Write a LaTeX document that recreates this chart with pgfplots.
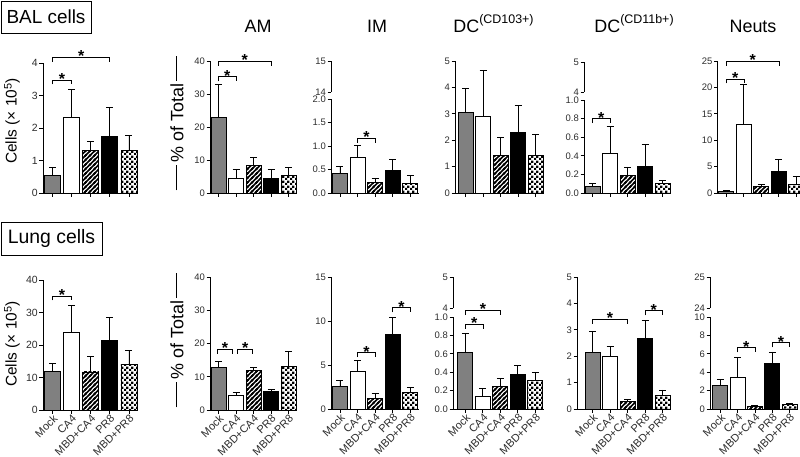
\documentclass[border=0pt]{standalone}
\usepackage{fontspec}
\setmainfont{Liberation Sans}
\usepackage{pgfplots}
\pgfplotsset{compat=1.18}
\usetikzlibrary{patterns}

\pgfdeclarepatternformonly{hatch}{\pgfqpoint{-1bp}{-1bp}}{\pgfqpoint{5.5bp}{5.5bp}}{\pgfqpoint{4.5bp}{4.5bp}}{%
  \pgfsetlinewidth{1.5bp}%
  \pgfpathmoveto{\pgfqpoint{-1bp}{-1bp}}\pgfpathlineto{\pgfqpoint{5.5bp}{5.5bp}}%
  \pgfpathmoveto{\pgfqpoint{3.5bp}{-1bp}}\pgfpathlineto{\pgfqpoint{5.5bp}{1bp}}%
  \pgfpathmoveto{\pgfqpoint{-1bp}{3.5bp}}\pgfpathlineto{\pgfqpoint{1bp}{5.5bp}}%
  \pgfusepath{stroke}}

\pgfdeclarepatternformonly{checker}{\pgfpointorigin}{\pgfqpoint{4.6bp}{4.6bp}}{\pgfqpoint{4.6bp}{4.6bp}}{%
  \pgfpathrectangle{\pgfpointorigin}{\pgfqpoint{2.3bp}{2.3bp}}%
  \pgfpathrectangle{\pgfqpoint{2.3bp}{2.3bp}}{\pgfqpoint{2.3bp}{2.3bp}}%
  \pgfusepath{fill}}

\definecolor{mockgray}{RGB}{128,128,128}
\definecolor{ticktext}{RGB}{45,45,45}

\pgfplotsset{
  barbase/.style={ybar, bar shift=0pt, draw=black, line width=0.9pt,
    /pgfplots/error bars/y dir=plus, /pgfplots/error bars/y explicit,
    /pgfplots/error bars/error bar style={line width=0.9pt, black},
    /pgfplots/error bars/error mark options={line width=0.9pt, black, mark size=3.5bp, rotate=90}},
  mock/.style={barbase, fill=mockgray},
  ca/.style={barbase, fill=white},
  mca/.style={barbase, pattern=hatch, pattern color=black},
  pr/.style={barbase, fill=black},
  mpr/.style={barbase, pattern=checker, pattern color=black},
  common/.style={
    scale only axis, anchor=south west, clip=false,
    x=17.5bp, xmax=4.5,
    tick align=outside, major tick length=3.5bp,
    tick style={black, line width=0.9pt},
    axis line style={black, line width=0.9pt, -},
    yticklabel style={font=\fontsize{9.5}{10}\selectfont, text=ticktext, inner sep=1.5bp},
    /pgf/number format/assume math mode=true,
  },
  panel/.style={common,
    axis x line*=bottom, axis y line*=left, ymin=0,
    xtick={0,1,2,3,4}, xticklabels={}, bar width=15bp},
  upper/.style={common, axis x line=none, axis y line*=left},
  bottomrow/.style={xticklabels={Mock,CA4,MBD+CA4,PR8,MBD+PR8},
    xticklabel style={rotate=45, anchor=north east, font=\fontsize{11}{12}\selectfont, text=ticktext, inner sep=0.3bp}},
  dec1/.style={yticklabel style={/pgf/number format/fixed, /pgf/number format/fixed zerofill, /pgf/number format/precision=1}},
}

\newcommand{\bb}[4]{\addplot[#1] coordinates {(#2,#3) +- (0,#4)};}
\newcommand{\sig}[4]{%
  \draw[line width=0.8pt, black] ([yshift=-4.5bp]axis cs:#1,#3) -- (axis cs:#1,#3) -- (axis cs:#2,#3) -- ([yshift=-4.5bp]axis cs:#2,#3);
  \node[font=\bfseries\fontsize{16}{16}\selectfont, anchor=base, inner sep=0pt, yshift=-4.4bp] at (axis cs:#4,#3) {*};}

\begin{document}
\begin{tikzpicture}
\useasboundingbox (0,0) rectangle (800bp,-457bp);

% ---------- labels ----------
\draw[line width=1pt] (1bp,-1bp) rectangle (91bp,-33bp);
\node[font=\fontsize{19}{19}\selectfont] at (46bp,-17bp) {BAL cells};
\draw[line width=1pt] (1bp,-222bp) rectangle (102bp,-255bp);
\node[font=\fontsize{19.5}{20}\selectfont] at (51.5bp,-238.5bp) {Lung cells};

\node[rotate=90, font=\fontsize{15.5}{16}\selectfont] at (12bp,-121bp) {Cells (× 10\textsuperscript{5})};
\node[rotate=90, font=\fontsize{15.5}{16}\selectfont] at (12bp,-344bp) {Cells (× 10\textsuperscript{5})};

\node[rotate=90, font=\fontsize{18}{18}\selectfont] at (177bp,-123bp) {\rule[0.33em]{25bp}{1.6bp}\,\% of Total\,\rule[0.33em]{25bp}{1.6bp}};
\node[rotate=90, font=\fontsize{18}{18}\selectfont] at (177bp,-340bp) {\rule[0.33em]{25bp}{1.6bp}\,\% of Total\,\rule[0.33em]{25bp}{1.6bp}};

\node[anchor=base, font=\fontsize{18}{18}\selectfont] at (258bp,-32bp) {AM};
\node[anchor=base, font=\fontsize{18}{18}\selectfont] at (377bp,-32bp) {IM};
\node[anchor=base, font=\fontsize{18}{18}\selectfont] at (493.5bp,-32bp) {DC\raisebox{9bp}{\fontsize{12.5}{13}\selectfont(CD103+)}};
\node[anchor=base, font=\fontsize{18}{18}\selectfont] at (634bp,-32bp) {DC\raisebox{9bp}{\fontsize{12.5}{13}\selectfont(CD11b+)}};
\node[anchor=base, font=\fontsize{18}{18}\selectfont] at (753bp,-32bp) {Neuts};

% ================= TOP ROW (BAL) =================
\begin{axis}[panel, at={(43bp,-193bp)}, x=19.1bp, xmin=-0.5, height=130bp, ymax=4, ytick={0,1,2,3,4}, bar width=16bp,
  yticklabel style={font=\fontsize{10.5}{11}\selectfont}]
\bb{mock}{0}{0.55}{0.25}
\bb{ca}{1}{2.33}{0.87}
\bb{mca}{2}{1.30}{0.30}
\bb{pr}{3}{1.75}{0.88}
\bb{mpr}{4}{1.30}{0.47}
\sig{0}{1}{3.48}{0.5}
\sig{0}{3}{4.18}{1.5}
\end{axis}

\begin{axis}[panel, at={(210bp,-193bp)}, xmin=-0.49, height=132bp, ymax=40, ytick={0,10,20,30,40}]
\bb{mock}{0}{22.8}{10.0}
\bb{ca}{1}{4.3}{2.9}
\bb{mca}{2}{8.2}{2.7}
\bb{pr}{3}{4.5}{2.6}
\bb{mpr}{4}{5.2}{2.4}
\sig{0}{1}{35.2}{0.5}
\sig{0}{3}{40}{1.5}
\end{axis}

\begin{axis}[panel, dec1, at={(331bp,-193bp)}, x=17.6bp, xmin=-0.51, height=94bp, ymax=2, ytick={0,0.5,1,1.5,2}]
\bb{mock}{0}{0.42}{0.14}
\bb{ca}{1}{0.75}{0.27}
\bb{mca}{2}{0.22}{0.10}
\bb{pr}{3}{0.48}{0.23}
\bb{mpr}{4}{0.21}{0.17}
\sig{1}{2}{1.17}{1.5}
\end{axis}
\begin{axis}[upper, at={(331bp,-92bp)}, x=17.6bp, xmin=-0.51, height=31bp, ymin=14, ymax=15, ytick={14,15}]
\end{axis}

\begin{axis}[panel, at={(455bp,-193bp)}, xmin=-0.6, height=132bp, ymax=5, ytick={0,1,2,3,4,5}]
\bb{mock}{0}{3.07}{0.88}
\bb{ca}{1}{2.90}{1.75}
\bb{mca}{2}{1.43}{0.69}
\bb{pr}{3}{2.30}{1.03}
\bb{mpr}{4}{1.42}{0.80}
\end{axis}

\begin{axis}[panel, dec1, at={(584bp,-193bp)}, xmin=-0.49, height=93bp, ymax=1, ytick={0,0.2,0.4,0.6,0.8,1}]
\bb{mock}{0}{0.07}{0.03}
\bb{ca}{1}{0.43}{0.29}
\bb{mca}{2}{0.19}{0.09}
\bb{pr}{3}{0.29}{0.23}
\bb{mpr}{4}{0.10}{0.03}
\sig{0}{1}{0.8}{0.5}
\end{axis}
\begin{axis}[upper, at={(584bp,-92bp)}, xmin=-0.49, height=30bp, ymin=4, ymax=5, ytick={4,5}]
\end{axis}

\begin{axis}[panel, at={(717.5bp,-193bp)}, xmin=-0.51, height=132bp, ymax=25, ytick={0,5,10,15,20,25}]
\bb{mock}{0}{0.3}{0.1}
\bb{ca}{1}{12.9}{7.6}
\bb{mca}{2}{1.3}{0.3}
\bb{pr}{3}{4.1}{2.2}
\bb{mpr}{4}{1.6}{1.5}
\sig{0}{1}{21.6}{0.5}
\sig{0}{3}{25}{1.5}
\end{axis}

% ================= BOTTOM ROW (Lung) =================
\begin{axis}[panel, bottomrow, at={(43bp,-410bp)}, x=19.1bp, xmin=-0.5, height=130bp, ymax=40, ytick={0,10,20,30,40}, bar width=16bp,
  yticklabel style={font=\fontsize{10.5}{11}\selectfont}]
\bb{mock}{0}{12}{2.2}
\bb{ca}{1}{24}{8.3}
\bb{mca}{2}{11.7}{4.8}
\bb{pr}{3}{21.4}{7.1}
\bb{mpr}{4}{14}{4.2}
\sig{0}{1}{35.1}{0.5}
\end{axis}

\begin{axis}[panel, bottomrow, at={(210bp,-410bp)}, xmin=-0.49, height=133bp, ymax=40, ytick={0,10,20,30,40}]
\bb{mock}{0}{12.9}{1.7}
\bb{ca}{1}{4.5}{0.9}
\bb{mca}{2}{11.8}{1.1}
\bb{pr}{3}{5.6}{0.5}
\bb{mpr}{4}{13}{4.5}
\sig{-0.05}{0.8}{18.3}{0.37}
\sig{1.1}{1.95}{18.3}{1.52}
\end{axis}

\begin{axis}[panel, bottomrow, at={(331bp,-409bp)}, x=17.6bp, xmin=-0.51, height=132bp, ymax=15, ytick={0,5,10,15}]
\bb{mock}{0}{2.55}{0.70}
\bb{ca}{1}{4.25}{1.25}
\bb{mca}{2}{1.25}{0.55}
\bb{pr}{3}{8.5}{1.9}
\bb{mpr}{4}{1.9}{0.6}
\sig{1}{2}{6.4}{1.5}
\sig{3}{4}{11.5}{3.5}
\end{axis}

\begin{axis}[panel, bottomrow, dec1, at={(453bp,-409bp)}, xmin=-0.71, height=92bp, ymax=1, ytick={0,0.2,0.4,0.6,0.8,1}]
\bb{mock}{0}{0.62}{0.20}
\bb{ca}{1}{0.14}{0.08}
\bb{mca}{2}{0.24}{0.09}
\bb{pr}{3}{0.38}{0.09}
\bb{mpr}{4}{0.31}{0.09}
\sig{0}{1}{0.92}{0.5}
\sig{0}{2}{1.07}{1}
\end{axis}
\begin{axis}[upper, at={(453bp,-308bp)}, xmin=-0.71, height=31bp, ymin=4, ymax=5, ytick={4,5}]
\end{axis}

\begin{axis}[panel, bottomrow, at={(577bp,-409bp)}, xmin=-0.89, height=132bp, ymax=5, ytick={0,1,2,3,4,5}]
\bb{mock}{0}{2.15}{0.80}
\bb{ca}{1}{1.98}{0.39}
\bb{mca}{2}{0.28}{0.07}
\bb{pr}{3}{2.67}{0.70}
\bb{mpr}{4}{0.50}{0.22}
\sig{0}{2}{3.4}{1}
\sig{3}{4}{3.72}{3.5}
\end{axis}

\begin{axis}[panel, bottomrow, at={(710bp,-409bp)}, x=17.3bp, xmin=-0.6, height=92bp, ymax=10, ytick={0,2,4,6,8,10}]
\bb{mock}{0}{2.55}{0.70}
\bb{ca}{1}{3.45}{2.10}
\bb{mca}{2}{0.32}{0.10}
\bb{pr}{3}{4.9}{1.3}
\bb{mpr}{4}{0.45}{0.17}
\sig{1}{2}{6.65}{1.5}
\sig{3}{4}{7.2}{3.5}
\end{axis}
\begin{axis}[upper, at={(710bp,-308bp)}, x=17.3bp, xmin=-0.6, height=31bp, ymin=24, ymax=25, ytick={24,25}]
\end{axis}

\end{tikzpicture}
\end{document}
